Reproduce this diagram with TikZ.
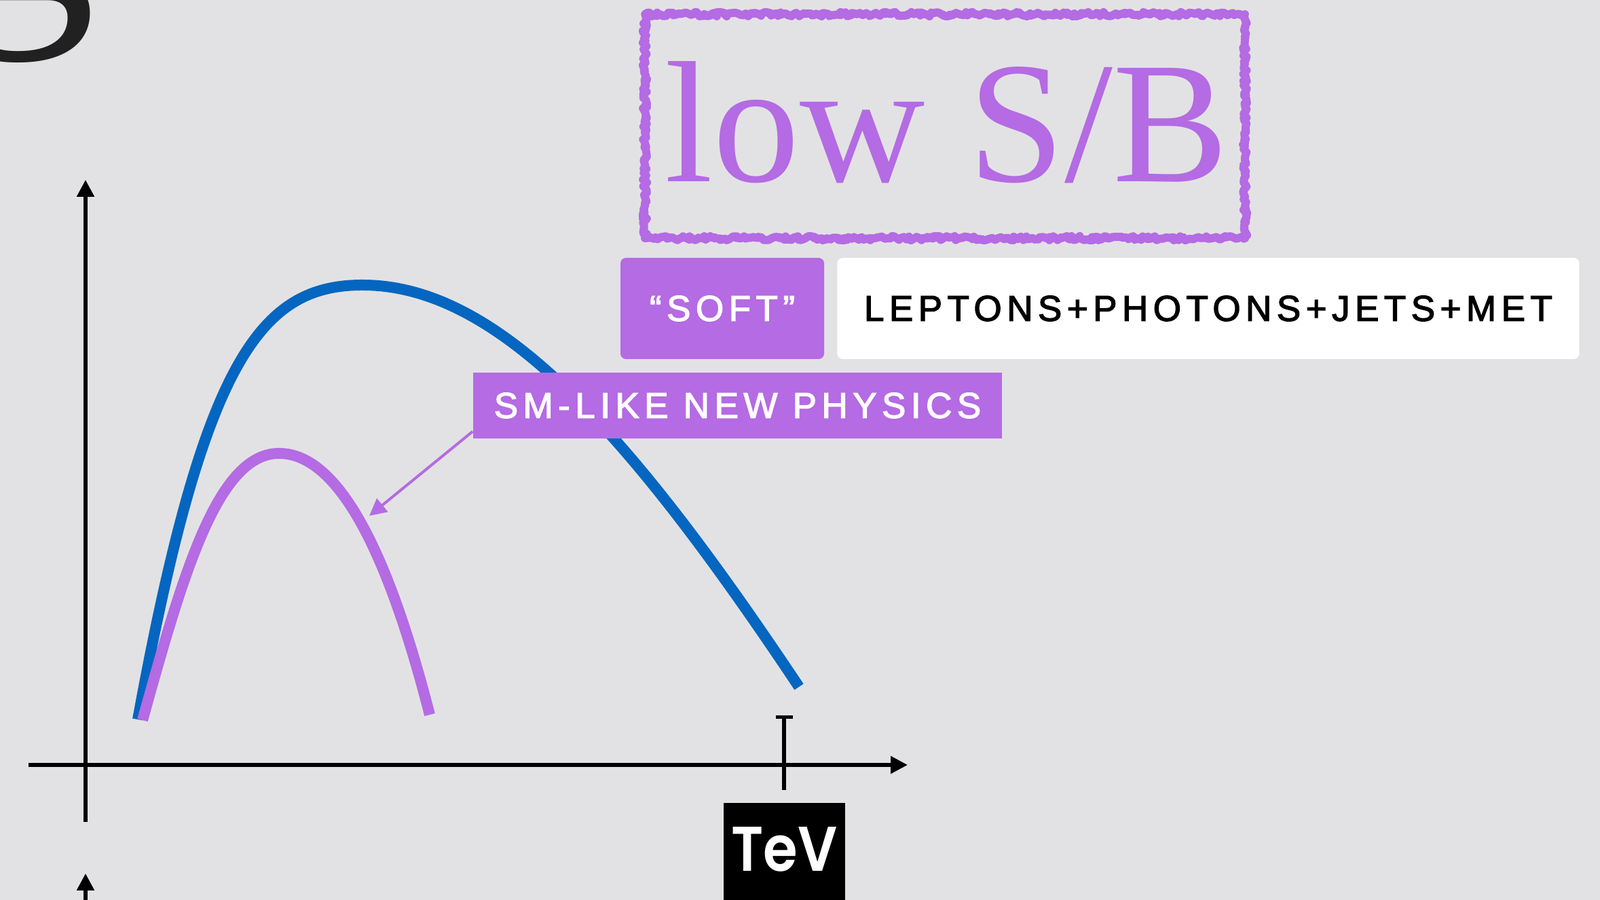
\documentclass[tikz,border=0pt]{standalone}
\usepackage{fontspec}
\usepackage{tikz}
\usetikzlibrary{positioning, arrows.meta, decorations.pathmorphing}
\usepackage{xcolor}
\newfontfamily\serifbig{Liberation Serif}
\newfontfamily\tagfont{Liberation Sans}[LetterSpace=14, FakeBold=2.5]
\newfontfamily\tevfont{Poppins SemiBold}[FakeStretch=0.88]
\definecolor{slide}{HTML}{E2E2E4}
\definecolor{smblue}{HTML}{0466C0}
\definecolor{nppurple}{HTML}{B46BE3}
\tikzset{
  axisarrow/.style={black, line width=0.055cm, -{Triangle[length=0.25cm, width=0.25cm]}},
  tag/.style={fill=nppurple, text=white, inner sep=0, font=\tagfont\fontsize{15.1}{18}\selectfont},
  spectrum/.style={line width=0.16cm},
  chalk/.style={nppurple, line width=0.12cm, line join=round, decorate, decoration={random steps, segment length=1pt, amplitude=0.9pt}},
}

\begin{document}
\begin{tikzpicture}
  \useasboundingbox (0,0) rectangle (23.57,13.26);
  \fill[slide] (0,0) rectangle (23.57,13.26);
  % only the descender of the title's first letter reaches into the frame
  \node[anchor=base west, inner sep=0, text=black!87, font=\serifbig\fontsize{122.7}{130}\selectfont] (title) at (-0.75,13.26) {g};

  \draw[axisarrow] (1.26,1.15) -- (1.26,10.61);
  \draw[axisarrow] (0.42,1.99) -- (13.37,1.99);
  \draw[axisarrow] (1.26,-0.2) -- (1.26,0.39);
  \draw[black, line width=0.055cm, {Bar[width=0.25cm]}-] (11.55,2.72) -- (11.55,1.62);

  \draw[spectrum, smblue] (2.03,2.66) .. controls (3.0,7.96) and (3.84,9.06) .. (5.34,9.06) .. controls (7.34,9.06) and (9.27,6.89) .. (11.77,3.14);
  \draw[spectrum, nppurple] (2.10,2.65) .. controls (2.70,4.82) and (3.21,6.58) .. (4.11,6.58) .. controls (5.11,6.58) and (5.83,4.68) .. (6.33,2.73);
  \coordinate (npcurve) at (5.44,5.66);

  % chalky frame: a thick rough pass and a thin one on top of it
  \draw[chalk] (9.50,13.05) rectangle (18.34,9.75);
  \draw[chalk, line width=0.05cm] (9.50,13.05) rectangle (18.34,9.75);
  \node[anchor=base, inner sep=0, text=nppurple, font=\serifbig\fontsize{72.6}{80}\selectfont] (lowsb) at (13.945,10.58) {low S/B};

  \node[tag, rounded corners=0.08cm, minimum width=3.00cm, minimum height=1.49cm] (soft) at (10.64,8.715) {“SOFT”};
  \node[tag, fill=white, text=black, rounded corners=0.08cm, minimum width=10.93cm, minimum height=1.49cm, right=0.18cm of soft] (final) {LEPTONS+PHOTONS+JETS+MET};
  \node[tag, minimum width=7.79cm, minimum height=0.97cm] (smlike) at (10.865,7.285) {SM-LIKE NEW PHYSICS};
  \draw[nppurple, line width=0.04cm, -{Triangle[length=0.25cm, width=0.25cm]}] ([yshift=0.11cm]smlike.south west) -- (npcurve);

  \node[fill=black, text=white, inner xsep=0, inner ysep=0.36cm, minimum width=1.79cm, text height=0.65cm, text depth=0.6cm, anchor=north, font=\tevfont\fontsize{26.5}{30}\selectfont] (tev) at (11.555,1.44) {TeV};
\end{tikzpicture}
\end{document}
